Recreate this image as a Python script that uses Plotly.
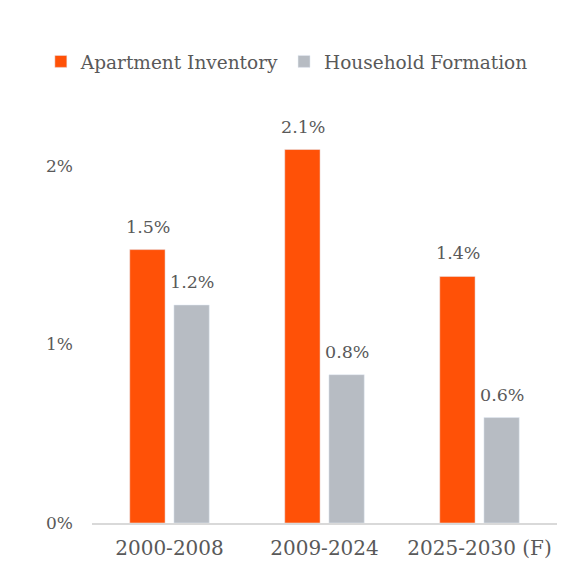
import plotly.graph_objects as go

categories = ["2000-2008", "2009-2024", "2025-2030 (F)"]
apartment = [1.53, 2.09, 1.38]
household = [1.22, 0.83, 0.59]
apartment_labels = ["1.5%", "2.1%", "1.4%"]
household_labels = ["1.2%", "0.8%", "0.6%"]
tick_vals = [0, 1, 2]
tick_text = ["0%", "1%", "2%"]

FONT = "DejaVu Serif"
TXT = "#595959"

fig = go.Figure()
fig.add_trace(go.Bar(name="Apartment Inventory", x=categories, y=apartment,
                     marker_color="#FF5107"))
fig.add_trace(go.Bar(name="Household Formation", x=categories, y=household,
                     marker_color="#B7BCC3"))

for series, labels, shift in ((apartment, apartment_labels, -22),
                              (household, household_labels, 22)):
    for c, v, t in zip(categories, series, labels):
        fig.add_annotation(x=c, y=v, text=t, showarrow=False, xshift=shift,
                           yanchor="bottom", yshift=11,
                           font=dict(family=FONT, size=17.5, color=TXT))

fig.update_layout(
    width=567, height=555,
    margin=dict(l=84, r=18, t=104, b=40, autoexpand=False),
    paper_bgcolor="white", plot_bgcolor="white",
    barmode="group", bargap=0.43, bargroupgap=0.2,
    font=dict(family=FONT, size=17, color=TXT),
    legend=dict(orientation="h", x=-0.11, xanchor="left",
                y=1.122, yanchor="middle",
                font=dict(family=FONT, size=18.5, color=TXT),
                traceorder="normal"),
    xaxis=dict(showline=True, linecolor="#D9D9D9", linewidth=2, ticks="",
               tickfont=dict(family=FONT, size=20, color=TXT), showgrid=False,
               ticklabelstandoff=6),
    yaxis=dict(range=[0, 2.3], tickvals=tick_vals, ticktext=tick_text,
               showgrid=False, zeroline=False, ticks="",
               tickfont=dict(family=FONT, size=17, color=TXT), ticklabelstandoff=18),
)

fig.write_html("out.html")
